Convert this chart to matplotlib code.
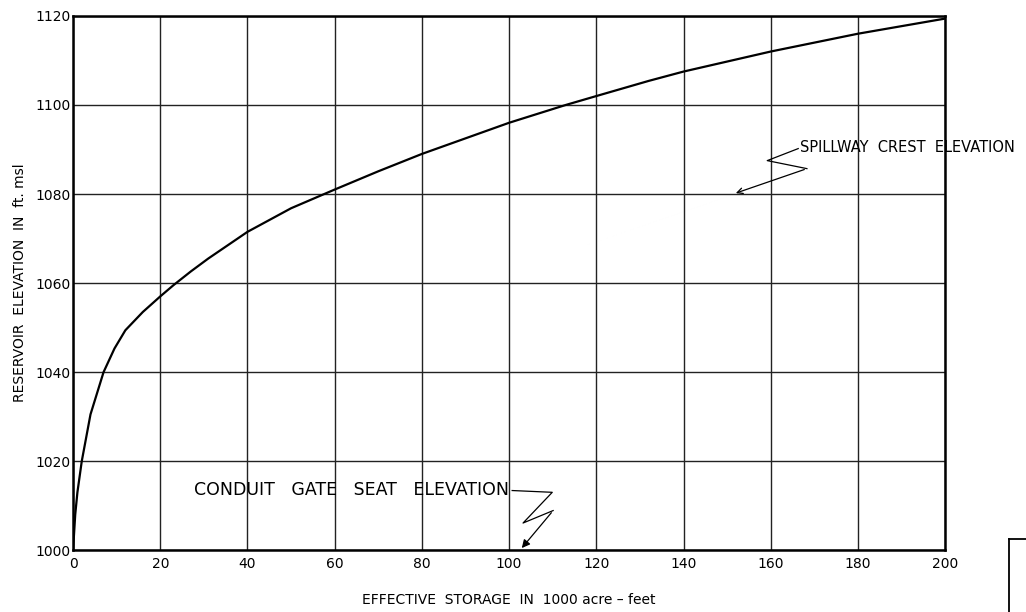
import numpy as np
import matplotlib
matplotlib.use('Agg')
import matplotlib.pyplot as plt
from matplotlib.lines import Line2D

# storage (1000 acre-feet) vs reservoir elevation (ft msl)
storage = [0, 0.5, 1, 2, 4, 7, 9.5, 12, 16, 20, 23, 27, 31, 40, 50, 60,
           70, 80, 100, 113, 120, 132, 140, 160, 180, 200]
elevation = [1000, 1008, 1013, 1020, 1030.5, 1040, 1045.3, 1049.4, 1053.5,
             1057, 1059.5, 1062.6, 1065.5, 1071.5, 1076.8, 1081, 1085.1,
             1089, 1096, 1100, 1102, 1105.4, 1107.5, 1112, 1116, 1119.4]

x_ticks = [0, 20, 40, 60, 80, 100, 120, 140, 160, 180, 200]
y_ticks = [1000, 1020, 1040, 1060, 1080, 1100, 1120]

spillway_crest = 1080
spillway_leader = [(166.3, 1090.2), (159.2, 1087.5), (168.3, 1085.7)]
spillway_target = (151.4, spillway_crest)

gate_seat = 1000
gate_leader = [(100.7, 1013.4), (109.9, 1013.0), (103.2, 1006.1), (110.1, 1008.9)]
gate_target = (102.5, gate_seat)

fig = plt.figure(figsize=(10.26, 6.12), dpi=100)
ax = fig.add_axes([0.0712, 0.101, 0.85, 0.873])

ax.plot(storage, elevation, color='black', linewidth=1.6, zorder=3,
        solid_joinstyle='round')

ax.set_xlim(0, 200)
ax.set_ylim(1000, 1120)
ax.set_xticks(x_ticks)
ax.set_yticks(y_ticks)
ax.set_xticklabels([str(v) for v in x_ticks], fontsize=10)
ax.set_yticklabels([str(v) for v in y_ticks], fontsize=10)
ax.tick_params(length=0, pad=5)
ax.tick_params(axis='y', pad=2)
ax.grid(True, color='#222222', linewidth=1.0)
for sp in ax.spines.values():
    sp.set_linewidth(1.8)
    sp.set_color('black')

ax.set_xlabel('EFFECTIVE  STORAGE  IN  1000 acre – feet', fontsize=10, labelpad=16)
ax.set_ylabel('RESERVOIR  ELEVATION  IN  ft. msl', fontsize=10, labelpad=6)

# spillway crest callout with zig-zag leader
ax.text(spillway_leader[0][0] + 0.4, spillway_leader[0][1] + 0.2,
        'SPILLWAY  CREST  ELEVATION', fontsize=10.5, va='center', ha='left',
        clip_on=False)
xs, ys = zip(*spillway_leader)
ax.plot(xs, ys, color='black', linewidth=0.9, clip_on=False)
ax.annotate('', xy=spillway_target, xytext=spillway_leader[-1],
            arrowprops=dict(arrowstyle='->', color='black', lw=0.9))

# conduit gate seat callout
ax.text(gate_leader[0][0] - 0.8, gate_leader[0][1] + 0.2,
        'CONDUIT   GATE   SEAT   ELEVATION', fontsize=12.5, va='center',
        ha='right')
xs, ys = zip(*gate_leader)
ax.plot(xs, ys, color='black', linewidth=0.9)
ax.annotate('', xy=gate_target, xytext=gate_leader[-1],
            arrowprops=dict(arrowstyle='-|>', color='black', lw=0.9,
                            mutation_scale=12))

# corner of the neighbouring sheet frame
fig.add_artist(Line2D([1009 / 1026, 1.0], [1 - 539 / 612, 1 - 539 / 612],
                      color='black', linewidth=1.3))
fig.add_artist(Line2D([1009 / 1026, 1009 / 1026], [1 - 539 / 612, 0.0],
                      color='black', linewidth=1.3))

fig.savefig('out.png', dpi=100)
